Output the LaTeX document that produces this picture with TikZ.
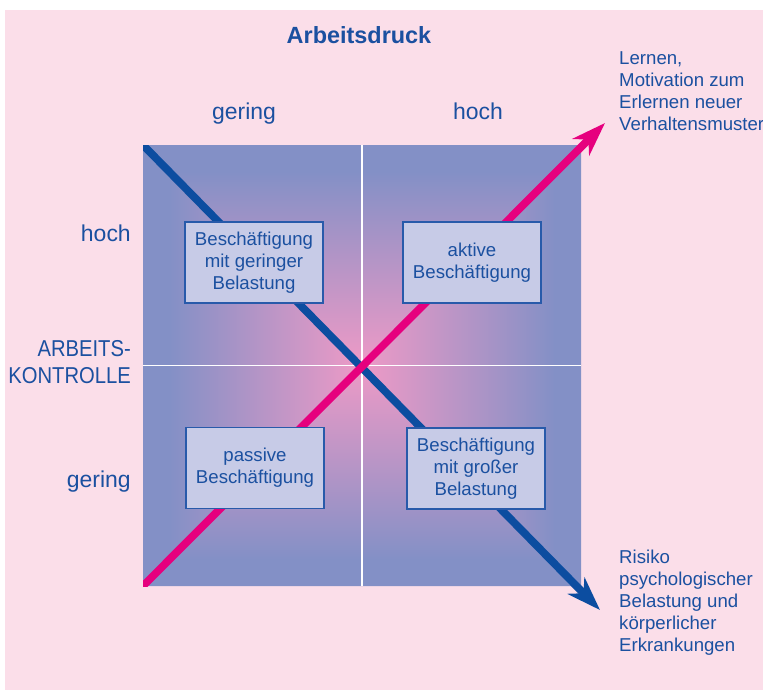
\documentclass[tikz,border=0pt]{standalone}
\usepackage{fontspec}
\setmainfont{Liberation Sans}
\newfontfamily\narrowsans[FakeStretch=0.88]{Liberation Sans}
\usetikzlibrary{arrows.meta,calc}

\definecolor{bgpink}{RGB}{251,222,233}
\definecolor{quadedge}{RGB}{131,144,198}
\definecolor{quadcentre}{RGB}{238,154,198}
\definecolor{strainblue}{RGB}{12,77,160}
\definecolor{learnpink}{RGB}{230,0,126}
\definecolor{boxfill}{RGB}{199,203,231}
\definecolor{boxline}{RGB}{40,90,170}
\definecolor{txtblue}{RGB}{27,80,160}

\pgfdeclareverticalshading{pyramid}{100bp}{color(0bp)=(quadedge); color(25bp)=(quadedge); color(31bp)=(quadedge); color(75bp)=(quadcentre); color(100bp)=(quadcentre)}

\tikzset{
  lbl/.style={text=txtblue, inner sep=0pt},
  axislbl/.style={lbl, font=\fontsize{19.6}{24}\selectfont},
  notelbl/.style={lbl, align=left, font=\fontsize{15.9}{18.8}\selectfont},
  quadbox/.style={draw=boxline, line width=1.2pt, fill=boxfill, text=txtblue,
    minimum width=4.14cm, minimum height=2.43cm, inner sep=0pt, align=center,
    font=\fontsize{15.9}{18.8}\selectfont},
  diag/.style={line width=6.6pt, -{Stealth[length=29pt, width=20pt, inset=9pt]}}
}

\begin{document}
\begin{tikzpicture}[x=0.03cm, y=-0.03cm]
    \useasboundingbox (0,0) rectangle (763,690);
    \fill[bgpink] (5,10) rectangle (763,690);

    \coordinate (nw)  at (143,145);
    \coordinate (ne)  at (581,145);
    \coordinate (se)  at (581,586);
    \coordinate (sw)  at (143,586);
    \coordinate (mid) at (362,365.5);

    \shade[shading=pyramid, shading angle=180] (nw) -- (ne) -- (mid) -- cycle;
    \shade[shading=pyramid, shading angle=0]   (sw) -- (se) -- (mid) -- cycle;
    \shade[shading=pyramid, shading angle=270] (nw) -- (sw) -- (mid) -- cycle;
    \shade[shading=pyramid, shading angle=90]  (ne) -- (se) -- (mid) -- cycle;

    \draw[white, line width=1.6pt] (nw -| mid) -- (sw -| mid);
    \draw[white, line width=1.6pt] (nw |- mid) -- (ne |- mid);

    \coordinate (bluetip) at (600,610);
    \coordinate (pinktip) at (605,123);
    \coordinate (bluestart) at ($(nw)!-12pt!(bluetip)$);
    \coordinate (pinkstart) at ($(sw)!-12pt!(pinktip)$);
    \begin{scope}
      \clip (143,145) rectangle (763,690);
      \draw[diag, strainblue] (bluestart) -- (bluetip);
    \end{scope}
    \begin{scope}
      \clip (143,0) rectangle (763,586);
      \draw[diag, learnpink] (pinkstart) -- (pinktip);
    \end{scope}

    \node[quadbox] (lowstrain)  at (254,262.5) {Beschäftigung\\mit geringer\\Belastung};
    \node[quadbox] (activejob)  at (472,262.5) {aktive\\Beschäftigung};
    \node[quadbox] (passivejob) at (255,468)   {passive\\Beschäftigung};
    \node[quadbox] (highstrain) at (476,468.5) {Beschäftigung\\mit großer\\Belastung};

    \node[lbl, anchor=base, font=\fontsize{20}{24}\selectfont\bfseries] (title) at (359,43) {Arbeitsdruck};
    \node[axislbl, anchor=base] (xlow)  at (244,119) {gering};
    \node[axislbl, anchor=base] (xhigh) at (478,119) {hoch};
    \node[axislbl, anchor=base east] (yhigh) at (131,241) {hoch};
    \node[axislbl, anchor=base east] (ylow)  at (131,487) {gering};
    \node[axislbl, anchor=north east, align=right, font=\fontsize{19.6}{23}\selectfont\narrowsans] (ylabel) at (131,340.5) {ARBEITS-\\KONTROLLE};

    \node[notelbl, anchor=north west] (learnlbl) at (619,51.5) {Lernen,\\Motivation zum\\Erlernen neuer\\Verhaltensmuster};
    \node[notelbl, anchor=north west] (risklbl)  at (619,549.5) {Risiko\\psychologischer\\Belastung und\\körperlicher\\Erkrankungen};
  \end{tikzpicture}
\end{document}
